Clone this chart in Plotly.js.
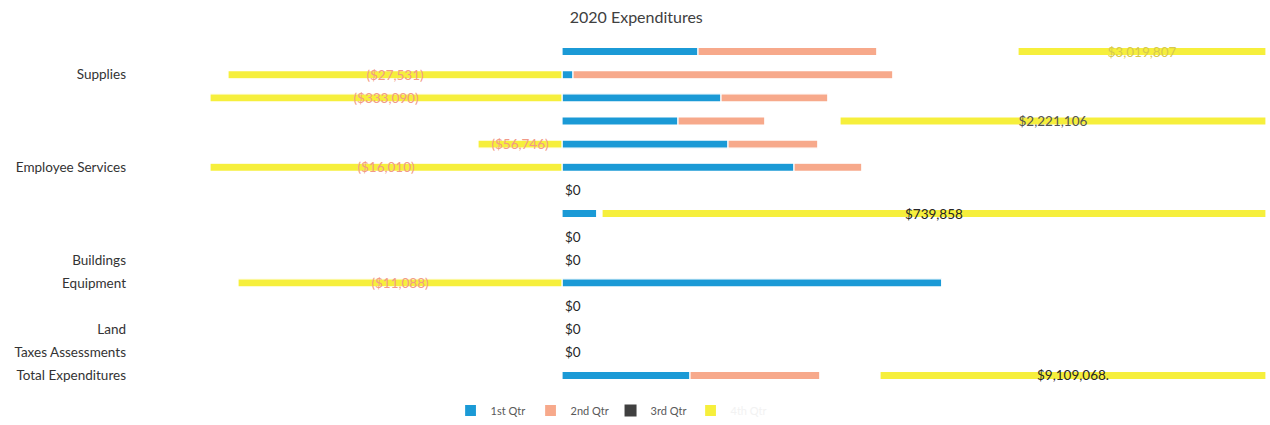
<!DOCTYPE html>
<html>
<head>
<meta charset="utf-8">
<script src="https://cdn.plot.ly/plotly-3.0.1.min.js"></script>
<style>html,body{margin:0;padding:0;background:#fff;}#chart{width:1270px;height:425px;}</style>
</head>
<body>
<div id="chart"></div>
<script>
// Row labels, top to bottom (blank = label not legible in the reference)
const categories = ["", "Supplies", "", "", "", "Employee Services", "", "", "", "Buildings", "Equipment", "", "Land", "Taxes Assessments", "Total Expenditures"];

// Bar lengths (dollars)
const qtr1 = [680000, 55000, 795000, 580000, 830000, 1160000, 0, 175000, 0, 0, 1900000, 0, 0, 0, 640000];
const qtr2 = [895000, 1600000, 535000, 435000, 450000, 340000, 0, 0, 0, 0, 0, 0, 0, 0, 650000];
const qtr3 = [705000, 0, 0, 375000, 0, 0, 0, 25000, 0, 0, 0, 0, 0, 0, 300000];
const qtr4 = [1240000, -1670000, -1760000, 2130000, -420000, -1760000, 0, 3320000, 0, 0, -1620000, 0, 0, 0, 1930000];

// Data labels printed on the 4th series
const qtr4Labels = ["$3,019,807", "($27,531)", "($333,090)", "$2,221,106", "($56,746)", "($16,010)", "$0", "$739,858", "$0", "$0", "($11,088)", "$0", "$0", "$0", "$9,109,068."];

const seriesNames = ["1st Qtr", "2nd Qtr", "3rd Qtr", "4th Qtr"];

const rowIdx = categories.map((_, i) => i);
const FONT = "Lato, 'Open Sans', sans-serif";

const labelColors = qtr4Labels.map((t, i) => {
  if (t.startsWith("(")) return "#f29a88";
  if (i === 0) return "#d6c94e";
  if (i === 3) return "#555555";
  return "#262626";
});
const labelPos = qtr4.map(v => v === 0 ? "outside" : "inside");

const common = {type: "bar", orientation: "h", y: rowIdx, hoverinfo: "none"};
const edge = {color: "#ffffff", width: 1.2};

const traces = [
  Object.assign({}, common, {name: seriesNames[0], x: qtr1, marker: {color: "#1b9ad6", line: edge}}),
  Object.assign({}, common, {name: seriesNames[1], x: qtr2, marker: {color: "#f7a98b", line: edge}}),
  Object.assign({}, common, {name: seriesNames[2], x: qtr3, showlegend: false, legendgroup: "q3",
                             marker: {color: "#ffffff", line: edge}}),
  {type: "bar", orientation: "h", name: seriesNames[2], x: [null], y: [null], legendgroup: "q3",
   marker: {color: "#404040"}, hoverinfo: "none"},
  Object.assign({}, common, {name: '<span style="color:#f2f2f2">' + seriesNames[3] + '</span>', x: qtr4,
                             marker: {color: "#f6ef3c", line: edge},
                             text: qtr4Labels, textposition: labelPos, insidetextanchor: "middle",
                             constraintext: "none", textangle: 0, cliponaxis: false,
                             textfont: {family: FONT, size: 13.5, color: labelColors},
                             insidetextfont: {family: FONT, size: 13.5, color: labelColors},
                             outsidetextfont: {family: FONT, size: 13.5, color: labelColors}})
];

const layout = {
  width: 1270, height: 425,
  margin: {l: 133, r: 0, t: 40, b: 36},
  paper_bgcolor: "#ffffff", plot_bgcolor: "#ffffff",
  font: {family: FONT, color: "#404040"},
  title: {text: "2020 Expenditures", font: {family: FONT, size: 16, color: "#404040"},
          x: 0.501, xref: "container", xanchor: "center", y: 0.96, yref: "container", yanchor: "middle"},
  barmode: "relative", bargap: 0.65,
  xaxis: {range: [-2145000, 3540000], showgrid: false, zeroline: false, showticklabels: false, ticks: "", showline: false, fixedrange: true},
  yaxis: {tickmode: "array", tickvals: rowIdx, ticktext: categories, range: [14.5, -0.5],
          showgrid: false, zeroline: false, ticks: "", showline: false, ticklabelstandoff: 6,
          tickfont: {family: FONT, size: 13.5, color: "#333333"}, fixedrange: true},
  legend: {orientation: "h", x: 0.42, xanchor: "center", y: -0.069, yanchor: "middle",
           font: {family: FONT, size: 11, color: "#595959"}, itemwidth: 30, traceorder: "normal",
           entrywidth: 35, entrywidthmode: "pixels"},
  showlegend: true
};

Plotly.newPlot("chart", traces, layout, {displayModeBar: false, staticPlot: true});
</script>
</body>
</html>
